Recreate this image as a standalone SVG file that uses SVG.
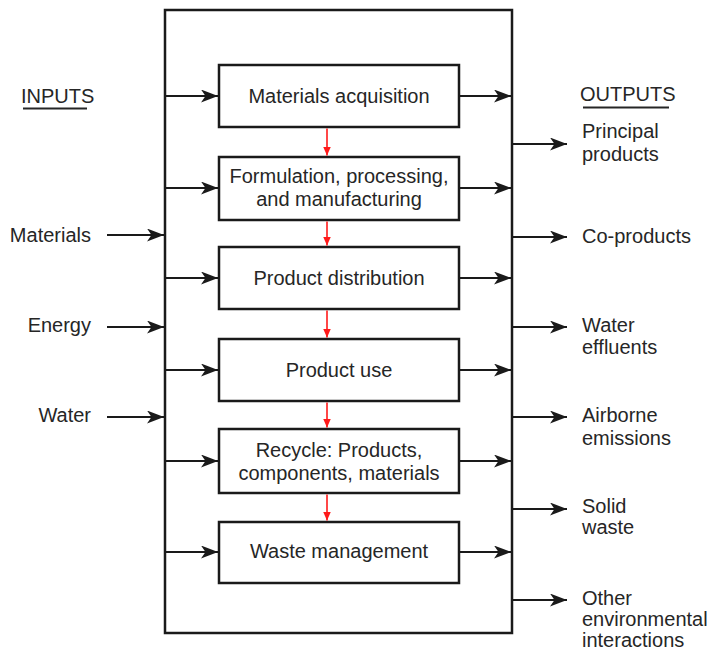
<svg xmlns="http://www.w3.org/2000/svg" width="707" height="650" viewBox="0 0 707 650">
  <style>
    text { font-family: "Liberation Sans", Arial, sans-serif; font-size: 20px; fill: #262626; }
    .mid { text-anchor: middle; }
    .end { text-anchor: end; }
    .box { fill: #ffffff; stroke: #1a1a1a; stroke-width: 2.5; }
    .frame { fill: none; stroke: #1a1a1a; stroke-width: 2.5; }
    .flow { stroke: #1a1a1a; stroke-width: 2.2; fill: none; marker-end: url(#head); }
    .step { stroke: #ff1a1a; stroke-width: 1.6; fill: none; marker-end: url(#redhead); }
    .rule { stroke: #262626; stroke-width: 2; }
  </style>
  <defs>
    <marker id="head" markerUnits="userSpaceOnUse" markerWidth="19" markerHeight="13" refX="17" refY="6.5" orient="auto">
      <path d="M0,0 L17,6.5 L0,13 L4.5,6.5 z" fill="#1a1a1a"/>
    </marker>
    <marker id="redhead" markerUnits="userSpaceOnUse" markerWidth="10" markerHeight="10" refX="9" refY="4" orient="auto">
      <path d="M0,0 L9,4 L0,8 z" fill="#ff1a1a"/>
    </marker>
  </defs>

  <rect id="frame" class="frame" x="165" y="10" width="347" height="623"/>

  <g id="inputs-heading">
    <text x="21" y="103">INPUTS</text>
    <line class="rule" x1="23" y1="108.5" x2="87" y2="108.5"/>
  </g>
  <g id="outputs-heading">
    <text x="580" y="101">OUTPUTS</text>
    <line class="rule" x1="583" y1="107.5" x2="669" y2="107.5"/>
  </g>

  <g id="stage-acquisition">
    <rect class="box" x="219" y="65" width="240" height="62"/>
    <text class="mid" x="339" y="103">Materials acquisition</text>
  </g>
  <g id="stage-formulation">
    <rect class="box" x="219" y="157" width="240" height="63"/>
    <text class="mid" x="339" y="183">Formulation, processing,</text>
    <text class="mid" x="339" y="206">and manufacturing</text>
  </g>
  <g id="stage-distribution">
    <rect class="box" x="219" y="247" width="240" height="62"/>
    <text class="mid" x="339" y="285">Product distribution</text>
  </g>
  <g id="stage-use">
    <rect class="box" x="219" y="339" width="240" height="62"/>
    <text class="mid" x="339" y="377">Product use</text>
  </g>
  <g id="stage-recycle">
    <rect class="box" x="219" y="429" width="240" height="64"/>
    <text class="mid" x="339" y="457">Recycle: Products,</text>
    <text class="mid" x="339" y="480">components, materials</text>
  </g>
  <g id="stage-waste">
    <rect class="box" x="219" y="522" width="240" height="61"/>
    <text class="mid" x="339" y="558">Waste management</text>
  </g>

  <g id="input-labels">
    <text class="end" x="91" y="242">Materials</text>
    <text class="end" x="91" y="332">Energy</text>
    <text class="end" x="91" y="422">Water</text>
  </g>

  <g id="output-labels">
    <text x="582" y="138">Principal</text>
    <text x="582" y="161">products</text>
    <text x="582" y="243">Co-products</text>
    <text x="582" y="332">Water</text>
    <text x="582" y="354">effluents</text>
    <text x="582" y="422">Airborne</text>
    <text x="582" y="445">emissions</text>
    <text x="582" y="513">Solid</text>
    <text x="582" y="534">waste</text>
    <text x="582" y="605">Other</text>
    <text x="582" y="626">environmental</text>
    <text x="582" y="647">interactions</text>
  </g>

  <g id="connectors">
    <!-- external inputs into the frame -->
    <line class="flow" x1="107" y1="235" x2="164" y2="235"/>
    <line class="flow" x1="107" y1="327" x2="164" y2="327" stroke-width="2.8"/>
    <line class="flow" x1="107" y1="417" x2="164" y2="417"/>

    <!-- frame into each stage -->
    <line class="flow" x1="166" y1="96" x2="218" y2="96"/>
    <line class="flow" x1="166" y1="188" x2="218" y2="188"/>
    <line class="flow" x1="166" y1="278" x2="218" y2="278"/>
    <line class="flow" x1="166" y1="370" x2="218" y2="370"/>
    <line class="flow" x1="166" y1="461" x2="218" y2="461"/>
    <line class="flow" x1="166" y1="552" x2="218" y2="552"/>

    <!-- each stage out to the frame -->
    <line class="flow" x1="460" y1="96" x2="511" y2="96"/>
    <line class="flow" x1="460" y1="188" x2="511" y2="188"/>
    <line class="flow" x1="460" y1="278" x2="511" y2="278"/>
    <line class="flow" x1="460" y1="370" x2="511" y2="370"/>
    <line class="flow" x1="460" y1="461" x2="511" y2="461"/>
    <line class="flow" x1="460" y1="552" x2="511" y2="552"/>

    <!-- frame out to the outputs -->
    <line class="flow" x1="513" y1="144" x2="567" y2="144"/>
    <line class="flow" x1="513" y1="237" x2="567" y2="237"/>
    <line class="flow" x1="513" y1="327" x2="567" y2="327"/>
    <line class="flow" x1="513" y1="417" x2="567" y2="417"/>
    <line class="flow" x1="513" y1="509" x2="567" y2="509"/>
    <line class="flow" x1="513" y1="600" x2="567" y2="600"/>

    <!-- life-cycle sequence -->
    <line class="step" x1="327" y1="128.5" x2="327" y2="155.5"/>
    <line class="step" x1="327" y1="221.5" x2="327" y2="245.5"/>
    <line class="step" x1="327" y1="310.5" x2="327" y2="337.5"/>
    <line class="step" x1="327" y1="402.5" x2="327" y2="427.5"/>
    <line class="step" x1="327" y1="494.5" x2="327" y2="520.5"/>
  </g>
</svg>
